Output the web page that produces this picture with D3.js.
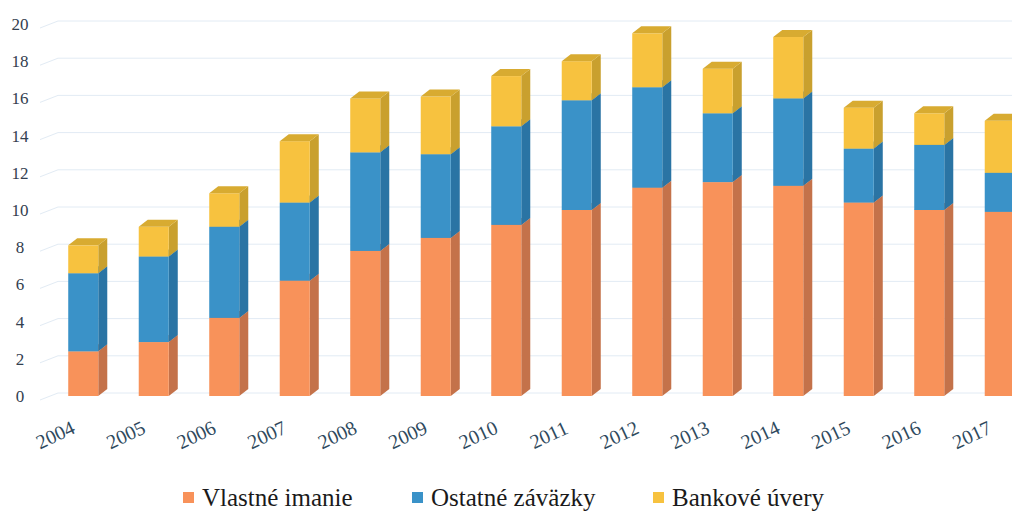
<!DOCTYPE html>
<html>
<head>
<meta charset="utf-8">
<script src="https://cdn.jsdelivr.net/npm/d3@7"></script>
<style>
  body { margin: 0; background: #fff; }
  svg { display: block; }
</style>
</head>
<body>
<svg id="chart"></svg>
<script>
const years = ['2004', '2005', '2006', '2007', '2008', '2009', '2010', '2011', '2012', '2013', '2014', '2015', '2016', '2017'];
const vlastneImanie = [2.4, 2.9, 4.2, 6.2, 7.8, 8.5, 9.2, 10.0, 11.2, 11.5, 11.3, 10.4, 10.0, 9.9];
const ostatneZavazky = [4.2, 4.6, 4.9, 4.2, 5.3, 4.5, 5.3, 5.9, 5.4, 3.7, 4.7, 2.9, 3.5, 2.1];
const bankoveUvery = [1.5, 1.6, 1.8, 3.3, 2.9, 3.1, 2.7, 2.1, 2.9, 2.4, 3.3, 2.2, 1.7, 2.8];
const seriesNames = ['Vlastné imanie', 'Ostatné záväzky', 'Bankové úvery'];
const yTicks = [0, 2, 4, 6, 8, 10, 12, 14, 16, 18, 20];

const width = 1012;
const height = 513;
const depthX = 9;
const depthY = 7;
const serif = "'Liberation Serif', 'Times New Roman', serif";

// front, side, top shades per series
const colors = [
    { front: '#F8925A', side: '#C4724A', top: '#E0834F' },
    { front: '#3A92C8', side: '#2A74A4', top: '#3283B6' },
    { front: '#F7C23F', side: '#C9A02E', top: '#D8AB31' },
];

const rows = years.map((y, i) => ({
    year: y,
    s0: vlastneImanie[i],
    s1: ostatneZavazky[i],
    s2: bankoveUvery[i],
}));
const stacked = d3.stack().keys(['s0', 's1', 's2'])(rows);

const xScale = d3.scaleBand().domain(years).range([48, 1035]).paddingInner(0.574).paddingOuter(0.287);
const yScale = d3.scaleLinear().domain([0, 20]).range([396, 24]);

const svg = d3.select('#chart')
    .attr('width', width)
    .attr('height', height);

// back-wall gridlines with a short floor diagonal on the left
const grid = svg.append('g').attr('class', 'grid');
grid.selectAll('path')
    .data(yTicks)
    .enter()
    .append('path')
    .attr('d', (d) => `M40,${yScale(d) + 4}L58,${yScale(d) - 3}L1012,${yScale(d) - 3}`)
    .attr('fill', 'none')
    .attr('stroke', '#e2ebf4')
    .attr('stroke-width', 1);

// y tick labels
svg.append('g')
    .selectAll('text')
    .data(yTicks)
    .enter()
    .append('text')
    .attr('x', 20)
    .attr('y', (d) => yScale(d))
    .attr('dy', '0.35em')
    .attr('text-anchor', 'middle')
    .style('font-family', serif)
    .style('font-size', '17px')
    .attr('fill', '#33404f')
    .text((d) => d);

// 3D stacked bars
const bars = svg.append('g').attr('class', 'bars');
stacked.forEach((layer, si) => {
    const g = bars.append('g');
    layer.forEach((d) => {
        const x0 = xScale(d.data.year);
        const x1 = x0 + xScale.bandwidth();
        const yTop = yScale(d[1]);
        const yBot = yScale(d[0]);
        // side face
        g.append('path')
            .attr('d', `M${x1},${yBot}L${x1 + depthX},${yBot - depthY}L${x1 + depthX},${yTop - depthY}L${x1},${yTop}Z`)
            .attr('fill', colors[si].side);
        // front face
        g.append('rect')
            .attr('x', x0)
            .attr('y', yTop)
            .attr('width', xScale.bandwidth())
            .attr('height', yBot - yTop)
            .attr('fill', colors[si].front);
        // top face
        g.append('path')
            .attr('d', `M${x0},${yTop}L${x0 + depthX},${yTop - depthY}L${x1 + depthX},${yTop - depthY}L${x1},${yTop}Z`)
            .attr('fill', colors[si].top);
    });
});

// rotated year labels
svg.append('g')
    .selectAll('text')
    .data(years)
    .enter()
    .append('text')
    .attr('transform', (d) => `translate(${xScale(d) + xScale.bandwidth() / 2 - 25},${441}) rotate(-25)`)
    .attr('text-anchor', 'middle')
    .style('font-family', serif)
    .style('font-size', '20px')
    .attr('fill', '#2f4a5e')
    .text((d) => d);

// legend
const legendX = [183, 412, 653];
const legend = svg.append('g')
    .selectAll('g')
    .data(seriesNames)
    .enter()
    .append('g')
    .attr('transform', (d, i) => `translate(${legendX[i]}, 498)`);

legend.append('rect')
    .attr('x', 0)
    .attr('y', -6)
    .attr('width', 11)
    .attr('height', 11)
    .attr('fill', (d, i) => colors[i].front);

legend.append('text')
    .attr('x', 19)
    .attr('y', 8)
    .style('font-family', serif)
    .style('font-size', '25px')
    .attr('fill', '#1a1a1a')
    .text((d) => d);
</script>
</body>
</html>
